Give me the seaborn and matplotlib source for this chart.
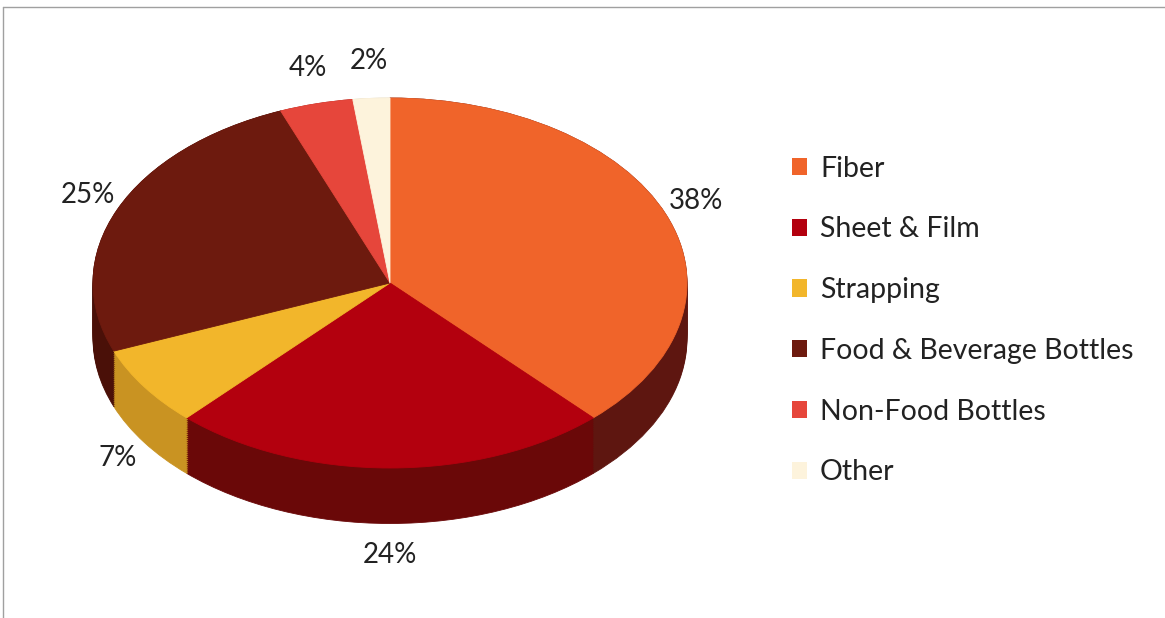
import numpy as np
import matplotlib
matplotlib.use("Agg")
import matplotlib.pyplot as plt
from matplotlib.patches import Patch
from matplotlib.lines import Line2D
import seaborn as sns

# -------------------------------
# Data
# -------------------------------
categories = ["Fiber", "Sheet & Film", "Strapping", "Food & Beverage Bottles",
              "Non-Food Bottles", "Other"]
shares = [38, 24, 7, 25, 4, 2]
top_colors = ["#f0642a", "#b3000e", "#f2b62b", "#6d1a0e", "#e6463b", "#fdf3dc"]
side_colors = ["#5e1610", "#6a0808", "#c99322", "#4a1008", "#9c2a22", "#d8cdb5"]

sns.set_theme(style="white")
plt.rcParams['font.family'] = ['Lato', 'DejaVu Sans']

fig = plt.figure(figsize=(11.65, 6.18), dpi=100)
W, H = 1165, 618

# pie ellipse in pixels: centre (390, 283), radii 297 x 185
cx, cy, rx, ry = 390, 283, 297, 185
xlim = (-1.3, 1.3)
ylim = (-1.8, 1.3)
left_px = cx + xlim[0] * rx
width_px = (xlim[1] - xlim[0]) * rx
top_px = cy - ylim[1] * ry
height_px = (ylim[1] - ylim[0]) * ry
ax = fig.add_axes([left_px / W, (H - top_px - height_px) / H,
                   width_px / W, height_px / H])

depth = 0.3


def seal(ws):
    # edge in the same colour as the face, to hide seams
    for w in ws:
        w.set_edgecolor(w.get_facecolor())
        w.set_linewidth(0.6)


# side of the 3D pie: stacked darker layers
for off in np.linspace(-depth, 0, 30):
    side, _ = ax.pie(shares, colors=side_colors, startangle=90, counterclock=False,
                     center=(0, off))
    seal(side)

# top face
wedges, _ = ax.pie(shares, colors=top_colors, startangle=90, counterclock=False,
                   center=(0, 0))
seal(wedges)

ax.set_aspect("auto")
ax.set_xlim(*xlim)
ax.set_ylim(*ylim)
ax.axis("off")

# percentage labels
for w, s in zip(wedges, shares):
    mid = np.deg2rad((w.theta1 + w.theta2) / 2)
    x = 1.11 * np.cos(mid)
    y = 1.2 * np.sin(mid)
    if y < 0:
        y -= depth * 0.9
    ax.text(x, y, f"{s}%", ha="center", va="center", fontsize=20, color="#222222")

# legend
handles = [Patch(facecolor=c, edgecolor="none") for c in top_colors]
fig.legend(handles, categories, loc="upper left",
           bbox_to_anchor=(766 / W, 1 - 130 / H), frameon=False,
           fontsize=20.5, handlelength=0.55, handleheight=0.55, handletextpad=0.45,
           labelspacing=1.22, labelcolor="#222222")

# thin frame
fig.add_artist(Line2D([3 / W, 1], [1 - 7 / H, 1 - 7 / H], color="#a0a0a0", lw=1))
fig.add_artist(Line2D([3 / W, 3 / W], [0, 1 - 7 / H], color="#a0a0a0", lw=1))

fig.savefig("out.png", dpi=100, facecolor="white")
